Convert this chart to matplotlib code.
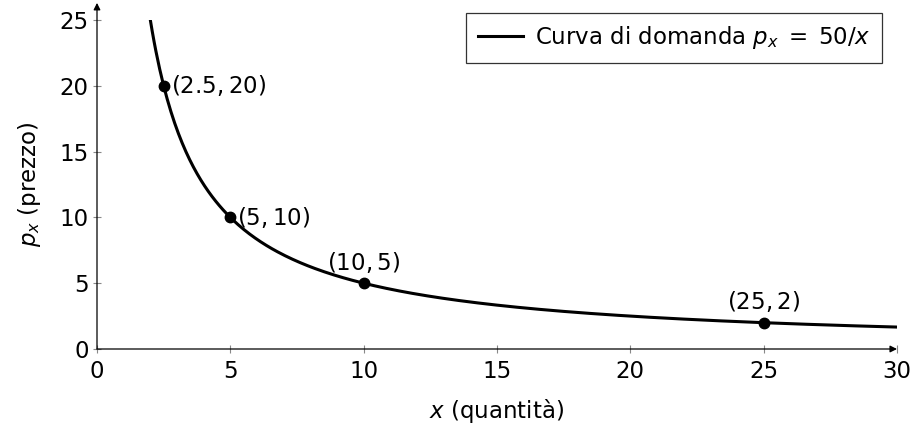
import numpy as np
import matplotlib
matplotlib.use("Agg")
import matplotlib.pyplot as plt

plt.rcParams['font.family'] = ['DejaVu Sans']
plt.rcParams['mathtext.fontset'] = 'dejavusans'

# data
k = 50
x_start, x_end = 2, 30
pts_x = [2.5, 5, 10, 25]
pts_y = [20, 10, 5, 2]
pt_labels = ["$(2.5, 20)$", "$(5, 10)$", "$(10, 5)$", "$(25, 2)$"]
xticks = [0, 5, 10, 15, 20, 25, 30]
yticks = [0, 5, 10, 15, 20, 25]

fig = plt.figure(figsize=(9.14, 4.26), dpi=100)
ax = fig.add_axes([97/914, 1 - 349/426, 800/914, 329/426])

xs = np.linspace(x_start, x_end, 400)
ax.plot(xs, k / xs, color='black', lw=2.2, label=r'Curva di domanda $p_x\;=\;50/x$', zorder=3)
ax.plot(pts_x, pts_y, 'o', color='black', ms=7.5, zorder=4)

fs = 16.5
offsets = [((5, 0), 'left', 'center'), ((5, 0), 'left', 'center'),
           ((0, 6), 'center', 'bottom'), ((0, 6), 'center', 'bottom')]
for (px, py, lab, (off, ha, va)) in zip(pts_x, pts_y, pt_labels, offsets):
    ax.annotate(lab, (px, py), xytext=off, textcoords='offset points',
                ha=ha, va=va, fontsize=fs)

ax.set_xlim(0, 30)
ax.set_ylim(0, 25)
for s in ax.spines.values():
    s.set_visible(False)
ax.annotate('', xy=(30, 0), xytext=(0, 0),
            arrowprops=dict(arrowstyle='-|>', color='black', lw=0.9, mutation_scale=10,
                            shrinkA=0, shrinkB=0), annotation_clip=False)
ax.annotate('', xy=(0, 26.3), xytext=(0, 0),
            arrowprops=dict(arrowstyle='-|>', color='black', lw=0.9, mutation_scale=10,
                            shrinkA=0, shrinkB=0), annotation_clip=False)

ax.set_xticks(xticks)
ax.set_yticks(yticks)
ax.tick_params(axis='both', direction='inout', length=6, width=0.8, color='#888888',
               labelsize=fs)
ax.tick_params(axis='x', pad=5)
ax.tick_params(axis='y', pad=3)

ax.set_xlabel(r'$x$ (quantità)', fontsize=fs, labelpad=10)
ax.set_ylabel(r'$p_x$ (prezzo)', fontsize=fs, labelpad=12)

leg = ax.legend(loc='upper right', fontsize=fs, frameon=True, fancybox=False,
                edgecolor='black', handlelength=2.0, borderpad=0.5, borderaxespad=0,
                handletextpad=0.5)
leg.get_frame().set_linewidth(0.9)
leg.set_bbox_to_anchor(((882 - 97) / 800, (349 - 13) / 329), transform=ax.transAxes)

fig.savefig('out.png', dpi=100)
